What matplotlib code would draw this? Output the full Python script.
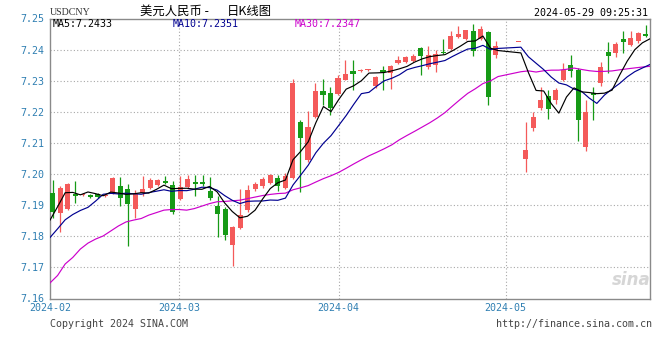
import numpy as np
import matplotlib
matplotlib.use("Agg")
import matplotlib.pyplot as plt
import matplotlib.transforms as mtransforms

# ---------------- data ----------------
slots = list(range(1, 61)) + [63] + list(range(64, 81))   # weekday slots with a candle
opens = [7.1940, 7.1876, 7.1887, 7.1937, 7.1933, 7.1933, 7.1936, 7.1928, 7.1938, 7.1961,
         7.1952, 7.1887, 7.1940, 7.1956, 7.1966, 7.1977, 7.1965, 7.1921, 7.1959, 7.1976,
         7.1974, 7.1945, 7.1898, 7.1887, 7.1772, 7.1827, 7.1884, 7.1952, 7.1962, 7.1972,
         7.1986, 7.1956, 7.1988, 7.2167, 7.2045, 7.2184, 7.2267, 7.2259, 7.2256, 7.2303,
         7.2332, 7.2330, 7.2333, 7.2282, 7.2335, 7.2325, 7.2357, 7.2359, 7.2362, 7.2405,
         7.2343, 7.2351, 7.2391, 7.2403, 7.2441, 7.2435, 7.2459, 7.2435, 7.2456, 7.2382,
         7.2424,
         7.2049, 7.2148, 7.2212, 7.2250, 7.2239, 7.2301, 7.2350, 7.2335, 7.2086, 7.2260,
         7.2293, 7.2392, 7.2389, 7.2434, 7.2416, 7.2427, 7.2451]
highs = [7.1981, 7.1961, 7.1972, 7.1977, 7.1940, 7.1936, 7.1939, 7.1937, 7.1989, 7.1991,
         7.1968, 7.1949, 7.1994, 7.1987, 7.1985, 7.1995, 7.1977, 7.1995, 7.1998, 7.1997,
         7.1998, 7.1989, 7.1929, 7.1895, 7.1833, 7.1951, 7.1965, 7.1975, 7.1990, 7.2000,
         7.1997, 7.2002, 7.2305, 7.2174, 7.2203, 7.2294, 7.2305, 7.2281, 7.2318, 7.2367,
         7.2366, 7.2339, 7.2338, 7.2314, 7.2346, 7.2351, 7.2378, 7.2380, 7.2386, 7.2408,
         7.2411, 7.2400, 7.2434, 7.2459, 7.2475, 7.2463, 7.2483, 7.2475, 7.2459, 7.2427,
         7.2424,
         7.2167, 7.2198, 7.2279, 7.2271, 7.2277, 7.2357, 7.2384, 7.2341, 7.2239, 7.2279,
         7.2359, 7.2424, 7.2424, 7.2461, 7.2459, 7.2457, 7.2478]
lows = [7.1858, 7.1814, 7.1884, 7.1908, 7.1929, 7.1924, 7.1923, 7.1926, 7.1936, 7.1896,
        7.1768, 7.1858, 7.1929, 7.1953, 7.1961, 7.1967, 7.1873, 7.1918, 7.1956, 7.1928,
        7.1961, 7.1916, 7.1798, 7.1788, 7.1706, 7.1825, 7.1879, 7.1944, 7.1956, 7.1969,
        7.1946, 7.1953, 7.1985, 7.1941, 7.2040, 7.2181, 7.2222, 7.2190, 7.2254, 7.2301,
        7.2271, 7.2328, 7.2331, 7.2277, 7.2271, 7.2274, 7.2354, 7.2356, 7.2359, 7.2319,
        7.2339, 7.2327, 7.2387, 7.2400, 7.2438, 7.2432, 7.2380, 7.2432, 7.2221, 7.2373,
        7.2424,
        7.2006, 7.2139, 7.2207, 7.2178, 7.2225, 7.2298, 7.2311, 7.2107, 7.2075, 7.2175,
        7.2284, 7.2325, 7.2375, 7.2389, 7.2411, 7.2420, 7.2440]
closes = [7.1879, 7.1954, 7.1968, 7.1928, 7.1937, 7.1925, 7.1927, 7.1934, 7.1987, 7.1922,
          7.1903, 7.1936, 7.1952, 7.1981, 7.1981, 7.1972, 7.1878, 7.1958, 7.1983, 7.1967,
          7.1969, 7.1924, 7.1871, 7.1804, 7.1830, 7.1868, 7.1949, 7.1968, 7.1985, 7.1997,
          7.1961, 7.1994, 7.2294, 7.2117, 7.2152, 7.2267, 7.2255, 7.2213, 7.2308, 7.2322,
          7.2322, 7.2335, 7.2336, 7.2311, 7.2328, 7.2348, 7.2368, 7.2375, 7.2380, 7.2380,
          7.2384, 7.2386, 7.2389, 7.2443, 7.2451, 7.2462, 7.2395, 7.2467, 7.2248, 7.2413,
          7.2424,
          7.2076, 7.2183, 7.2239, 7.2210, 7.2271, 7.2335, 7.2330, 7.2175, 7.2199, 7.2253,
          7.2343, 7.2378, 7.2418, 7.2423, 7.2437, 7.2453, 7.2443]

# moving-average values at the start of the window (need data before the window)
ma5_head = [7.1852, 7.1895, 7.1940, 7.1941]
ma10_head = [7.1796, 7.1824, 7.1853, 7.1870, 7.1883, 7.1893, 7.1913, 7.1935, 7.1938]
ma30_head = [7.1650, 7.1674, 7.1711, 7.1732, 7.1759, 7.1778, 7.1791, 7.1801, 7.1817, 7.1833,
             7.1846, 7.1852, 7.1857, 7.1868, 7.1876, 7.1884, 7.1886, 7.1886, 7.1884, 7.1889,
             7.1897, 7.1905, 7.1911, 7.1912, 7.1914, 7.1916, 7.1921, 7.1926, 7.1931]

y_ticks = [7.16, 7.17, 7.18, 7.19, 7.20, 7.21, 7.22, 7.23, 7.24, 7.25]
month_labels = ["2024-02", "2024-03", "2024-04", "2024-05"]
month_slots = [1, 18, 39, 61]
grid_slots = [18, 39, 61]

title_left = "美元人民币 -"
title_right = "日K线图"
symbol = "USDCNY"
stamp = "2024-05-29 09:25:31"
ma_texts = ["MA5:7.2433", "MA10:7.2351", "MA30:7.2347"]

# ---------------- style ----------------
RED = "#f45a5a"
GREEN = "#169a16"
AXIS_BLUE = "#2f7fb2"
GRID = "#a8a8a8"
MONO = "DejaVu Sans Mono"
CJK = ["Noto Sans CJK SC", "DejaVu Sans"]

W, H = 660, 360
fig = plt.figure(figsize=(W / 100, H / 100), dpi=100)
fig.patch.set_facecolor("white")
ax = fig.add_axes([50 / W, 1 - 298.5 / H, 600 / W, 280 / H])

X0, X1 = -0.36, 79.56
N_SLOTS = 80
ax.set_xlim(X0, X1)
ax.set_ylim(7.16, 7.25)


def line_x(s):
    # MA lines are spread across the full plot width
    return X0 + (np.asarray(s) - 1) * (X1 - X0) / (N_SLOTS - 1)


o = np.array(opens); h = np.array(highs); l = np.array(lows); c = np.array(closes)
xs = np.array(slots) - 1
up = c >= o
cols = np.where(up, RED, GREEN)

# grid
for yv in y_ticks[1:-1]:
    ax.axhline(yv, color=GRID, lw=0.8, ls=(0, (1, 2)), zorder=0)
for gs in grid_slots:
    ax.axvline(line_x(gs), color=GRID, lw=0.8, ls=(0, (1, 2)), zorder=0)

# candles
ax.vlines(xs, l, h, colors=cols, lw=0.9, zorder=2)
body_bottom = np.minimum(o, c)
body_h = np.maximum(np.abs(c - o), 0.00035)
ax.bar(xs, body_h, bottom=body_bottom, width=0.68, color=cols, linewidth=0, zorder=3)


def moving(vals, n, head):
    out = []
    for i in range(len(vals)):
        if i < n - 1:
            out.append(head[i])
        else:
            out.append(np.mean(vals[i - n + 1:i + 1]))
    return np.array(out)


ma5 = moving(c, 5, ma5_head)
ma10 = moving(c, 10, ma10_head)
ma30 = moving(c, 30, ma30_head)
lx = line_x(slots)
ax.plot(lx, ma30, color="#cc00cc", lw=0.85, zorder=4)
ax.plot(lx, ma10, color="#000090", lw=0.85, zorder=5)
ax.plot(lx, ma5, color="#000000", lw=0.85, zorder=6)

# axes cosmetics
for sp in ax.spines.values():
    sp.set_color("#8a8a8a")
    sp.set_linewidth(1.0)
ax.set_yticks(y_ticks)
ax.set_yticklabels([f"{v:.2f}" for v in y_ticks], family=MONO, fontsize=7.2, color=AXIS_BLUE)
ax.tick_params(axis="y", length=0, pad=4)
ax.set_xticks([])

trans = mtransforms.blended_transform_factory(ax.transData, ax.transAxes)
for lab, ms in zip(month_labels, month_slots):
    ax.text(line_x(ms), -0.034, lab, transform=trans, ha="center", va="center",
            family=MONO, fontsize=7.2, color=AXIS_BLUE, clip_on=False)

# watermark
ax.text(0.968, 0.035, "sina", transform=ax.transAxes, ha="center", va="bottom",
        fontsize=12, style="italic", weight="bold", color="#d6d6d6", zorder=1)


def fx(px):
    return px / W


def fy(py):
    return 1 - py / H


fig.text(fx(50), fy(12.5), symbol, family="Liberation Serif", fontsize=7.2, color="#333333",
         ha="left", va="center")
fig.text(fx(140), fy(11.5), title_left, family=CJK, fontsize=8.9,
         color="#000000", ha="left", va="center")
fig.text(fx(226.5), fy(11.5), title_right, family=CJK, fontsize=8.9,
         color="#000000", ha="left", va="center")
fig.text(fx(648), fy(12.5), stamp, family=MONO, fontsize=7.2, color="#000000",
         ha="right", va="center")
for txt, px, col in zip(ma_texts, [53, 173, 295], ["#000000", "#000090", "#cc00cc"]):
    fig.text(fx(px), fy(24), txt, family=MONO, fontsize=7.2, color=col, ha="left", va="center")

fig.text(fx(50), fy(324), "Copyright 2024 SINA.COM", family=MONO, fontsize=7.2,
         color="#444444", ha="left", va="center")
fig.text(fx(652), fy(324), "http://finance.sina.com.cn", family=MONO, fontsize=7.2,
         color="#444444", ha="right", va="center")

fig.savefig("out.png", dpi=100)
